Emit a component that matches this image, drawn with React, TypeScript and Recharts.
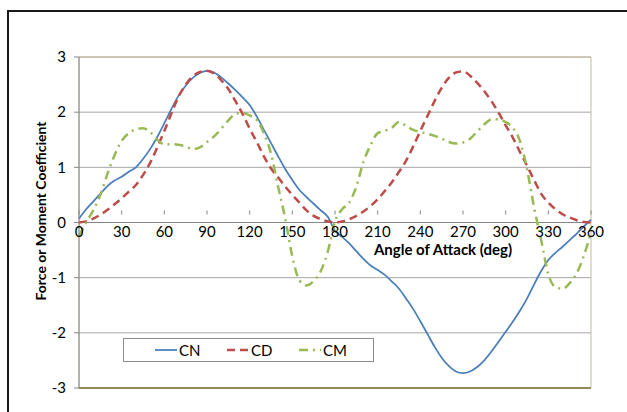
import React from 'react';
import { CartesianGrid, Legend, Line, LineChart, ReferenceArea, ReferenceLine, XAxis, YAxis } from 'recharts';

const ANGLES = [
  0, 5, 10, 15, 20, 25, 30, 35, 40, 45, 50, 55, 60, 65, 70, 75, 80, 85, 90, 95,
  100, 105, 110, 115, 120, 125, 130, 135, 140, 145, 150, 155, 160, 165, 170, 175, 180, 185, 190, 195,
  200, 205, 210, 215, 220, 225, 230, 235, 240, 245, 250, 255, 260, 265, 270, 275, 280, 285, 290, 295,
  300, 305, 310, 315, 320, 325, 330, 335, 340, 345, 350, 355, 360,
];

const CN = [
  0.07, 0.24, 0.38, 0.52, 0.66, 0.76, 0.83, 0.92, 1.0, 1.15,
  1.33, 1.55, 1.8, 2.06, 2.3, 2.48, 2.62, 2.71, 2.75, 2.72,
  2.63, 2.52, 2.4, 2.27, 2.13, 1.92, 1.68, 1.44, 1.2, 0.97,
  0.77, 0.59, 0.46, 0.34, 0.22, 0.1, -0.15, -0.26, -0.38, -0.52,
  -0.66, -0.78, -0.86, -0.95, -1.07, -1.2, -1.38, -1.57, -1.79, -2.02,
  -2.25, -2.45, -2.6, -2.7, -2.73, -2.7, -2.62, -2.5, -2.34, -2.16,
  -1.98, -1.8, -1.6, -1.38, -1.12, -0.88, -0.68, -0.55, -0.44, -0.32,
  -0.2, -0.07, 0.05,
];

const CD = [
  0, 0.02, 0.07, 0.14, 0.23, 0.33, 0.44, 0.56, 0.68, 0.86,
  1.08, 1.36, 1.66, 1.98, 2.28, 2.5, 2.65, 2.73, 2.75, 2.7,
  2.58, 2.42, 2.2, 1.97, 1.7, 1.46, 1.2, 0.98, 0.82, 0.65,
  0.5, 0.36, 0.22, 0.12, 0.06, 0.02, 0, 0.02, 0.06, 0.12,
  0.2, 0.3, 0.42, 0.57, 0.73, 0.92, 1.12, 1.38, 1.66, 1.93,
  2.2, 2.44, 2.62, 2.72, 2.74, 2.66, 2.53, 2.38, 2.2, 1.99,
  1.76, 1.54, 1.28, 1.03, 0.77, 0.52, 0.36, 0.24, 0.15, 0.09,
  0.04, 0.01, 0,
];

const CM = [
  -0.25, 0.0, 0.22, 0.5, 0.88, 1.22, 1.48, 1.62, 1.69, 1.71,
  1.64, 1.5, 1.42, 1.42, 1.41, 1.38, 1.33, 1.36, 1.46, 1.56,
  1.7, 1.85, 1.97, 1.99, 1.94, 1.86, 1.62, 1.25, 0.65, 0.07,
  -0.62, -1.05, -1.14, -1.06, -0.88, -0.52, 0.02, 0.24, 0.36, 0.65,
  1.1, 1.4, 1.62, 1.66, 1.72, 1.82, 1.75, 1.68, 1.64, 1.61,
  1.57, 1.52, 1.46, 1.43, 1.45, 1.52, 1.65, 1.78, 1.87, 1.87,
  1.82, 1.72, 1.48, 0.97, 0.27, -0.32, -0.94, -1.17, -1.2, -1.1,
  -0.92, -0.6, -0.18,
];

const SERIES = ['CN', 'CD', 'CM'] as const;
const X_TICKS = [0, 30, 60, 90, 120, 150, 180, 210, 240, 270, 300, 330, 360];
const Y_TICKS = [-3, -2, -1, 0, 1, 2, 3];

const data = ANGLES.map((angle, i) => ({ angle, CN: CN[i], CD: CD[i], CM: CM[i] }));

const W = 627;
const H = 412;
const PLOT_TOP = 33;
const PLOT_BOTTOM = 388;
const PLOT_LEFT = 79;
const PLOT_RIGHT = 591;
const Y_AXIS_W = 30;
const X_AXIS_H = H - PLOT_BOTTOM;
const FONT = 'Lato, "Open Sans", sans-serif';

// the x axis crosses at zero, so its labels sit on that line, not at the bottom
const ZERO_Y = PLOT_TOP + ((PLOT_BOTTOM - PLOT_TOP) * 3) / 6;

const STYLES: Record<string, { color: string; width: number; dash?: string }> = {
  CN: { color: '#4a7ebb', width: 1.75 },
  CD: { color: '#be4b48', width: 2.5, dash: '8 5' },
  CM: { color: '#98b954', width: 2.5, dash: '9 5 2 5' },
};

const XTick = (props: any) => {
  const { x, payload } = props;
  return (
    <g>
      <line x1={x} x2={x} y1={ZERO_Y} y2={ZERO_Y + 4} stroke="#868686" />
      <text x={x} y={ZERO_Y + 26} textAnchor="middle" fill="#000" fontSize={15} fontFamily={FONT}>
        {payload.value}
      </text>
    </g>
  );
};

const LegendBox = (props: any) => {
  const items = [...(props.payload ?? [])].sort(
    (a: any, b: any) => SERIES.indexOf(a.dataKey) - SERIES.indexOf(b.dataKey),
  );
  return (
    <div
      style={{
        width: 251,
        height: 24,
        boxSizing: 'border-box',
        border: '1px solid #8c8c8c',
        background: '#fff',
        display: 'flex',
        alignItems: 'center',
        paddingLeft: 31,
        fontFamily: FONT,
        fontSize: 15,
        color: '#000',
      }}
    >
      {items.map((it: any) => {
        const s = STYLES[it.dataKey];
        return (
          <div key={it.dataKey} style={{ width: 72, display: 'flex', alignItems: 'center' }}>
            <svg width={22} height={6} style={{ marginRight: 2 }}>
              <line x1={0} x2={22} y1={3} y2={3} stroke={s.color} strokeWidth={s.width} strokeDasharray={s.dash} />
            </svg>
            <span>{it.value}</span>
          </div>
        );
      })}
    </div>
  );
};

export default function App() {
  return (
    <div style={{ position: 'relative', width: W, height: H, overflow: 'hidden', background: '#fff' }}>
      <style>{'body{margin:0}'}</style>
      <div
        style={{
          position: 'absolute',
          left: 7,
          top: 10,
          width: 700,
          height: 500,
          border: '2px solid #1a1a1a',
        }}
      />
      <div style={{ position: 'absolute', left: 0, top: 0 }}>
        <LineChart
          width={W}
          height={H}
          data={data}
          margin={{ top: PLOT_TOP, right: W - PLOT_RIGHT, bottom: 0, left: PLOT_LEFT - Y_AXIS_W }}
        >
          <CartesianGrid vertical={false} stroke="#a6a6a6" />
          <ReferenceArea x1={0} x2={360} y1={-3} y2={3} fill="none" stroke="#c4bd97" />
          <ReferenceLine y={-3} stroke="#948a54" strokeWidth={2} />
          <ReferenceLine y={0} stroke="#868686" />
          <XAxis
            dataKey="angle"
            type="number"
            domain={[0, 360]}
            ticks={X_TICKS}
            height={X_AXIS_H}
            axisLine={false}
            tickLine={false}
            tick={<XTick />}
            interval={0}
          />
          <YAxis
            type="number"
            domain={[-3, 3]}
            ticks={Y_TICKS}
            width={Y_AXIS_W}
            axisLine={{ stroke: '#868686' }}
            tickLine={{ stroke: '#868686' }}
            tickSize={5}
            tickMargin={8}
            tick={{ fill: '#000', fontSize: 15, fontFamily: FONT }}
            interval={0}
          />
          {SERIES.map((k) => (
            <Line
              key={k}
              type="monotone"
              dataKey={k}
              name={k}
              stroke={STYLES[k].color}
              strokeWidth={STYLES[k].width}
              strokeDasharray={STYLES[k].dash}
              dot={false}
              activeDot={false}
              isAnimationActive={false}
            />
          ))}
          <Legend
            content={<LegendBox />}
            layout="horizontal"
            verticalAlign="top"
            align="left"
            wrapperStyle={{ position: 'absolute', left: 123, top: 338, width: 251, height: 24 }}
          />
          <text x={443} y={255} textAnchor="middle" fontSize={15} fontWeight="bold" fontFamily={FONT} fill="#000">
            Angle of Attack (deg)
          </text>
          <text
            x={40}
            y={211}
            textAnchor="middle"
            dominantBaseline="central"
            fontSize={14}
            fontWeight="bold"
            fontFamily={FONT}
            fill="#000"
            transform="rotate(-90 40 211)"
          >
            Force or Moment Coefficient
          </text>
        </LineChart>
      </div>
    </div>
  );
}
